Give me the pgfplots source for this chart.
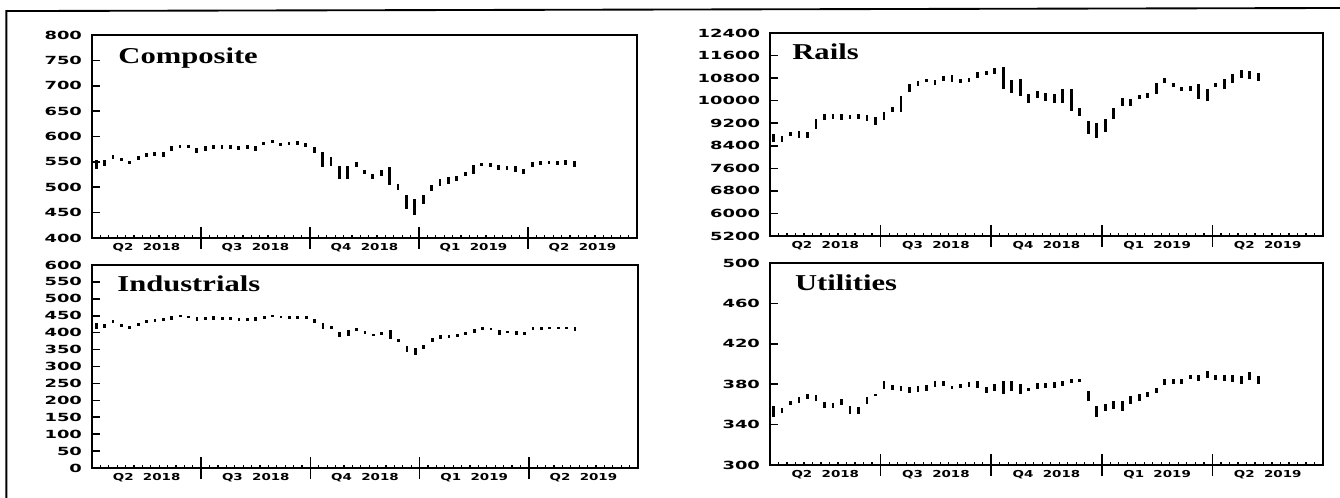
\documentclass[border=0pt]{standalone}
\usepackage{pgfplots}
\pgfplotsset{compat=1.18}
\usepackage{pgfplotstable}
\usepackage{fontspec}
\setmainfont{Liberation Serif}
\newfontfamily\ytfont[FakeStretch=1.6]{DejaVu Sans}
\newfontfamily\xtfont[FakeStretch=1.4]{DejaVu Sans}
\newfontfamily\ttlfont[FakeStretch=1.35]{Liberation Serif}

\pgfplotstableread{
k h l
0 554 536
1 554 541
2 564 556
3 558 551
4 552 546
5 562 554
6 567 560
7 570 562
8 569 560
9 581 572
10 584 577
11 584 577
12 577 567
13 581 572
14 584 576
15 584 576
16 583 575
17 581 573
18 583 575
19 581 572
20 590 583
21 594 588
22 588 581
23 589 583
24 592 584
25 588 580
26 579 567
27 569 539
28 559 541
29 541 516
30 541 516
31 549 539
32 533 526
33 526 516
34 533 523
35 539 505
36 507 495
37 485 457
38 477 446
39 485 467
40 505 493
41 516 503
42 520 507
43 523 513
44 530 523
45 543 526
46 547 541
47 547 539
48 543 533
49 541 533
50 541 530
51 536 526
52 549 539
53 551 543
54 552 545
55 551 543
56 554 543
57 552 539
}\comp

\pgfplotstableread{
k h l
0 8818 8524
1 8735 8547
2 8876 8735
3 8935 8665
4 8900 8665
5 9346 8994
6 9522 9322
7 9522 9346
8 9510 9322
9 9487 9346
10 9522 9346
11 9487 9287
12 9405 9134
13 9581 9322
14 9792 9604
15 10168 9581
16 10579 10309
17 10696 10520
18 10778 10661
19 10731 10544
20 10872 10696
21 10896 10661
22 10778 10638
23 10814 10673
24 11013 10814
25 11049 10896
26 11166 10931
27 11201 10403
28 10731 10285
29 10778 10168
30 10226 9910
31 10344 10109
32 10285 9992
33 10226 9910
34 10403 9910
35 10403 9639
36 9722 9463
37 9287 8818
38 9205 8665
39 9346 8876
40 9757 9346
41 10109 9815
42 10050 9815
43 10191 10074
44 10285 10109
45 10638 10226
46 10814 10638
47 10638 10497
48 10497 10344
49 10520 10344
50 10579 10050
51 10426 9992
52 10638 10497
53 10778 10426
54 10931 10638
55 11084 10814
56 11049 10778
57 10990 10696
}\rails

\pgfplotstableread{
k h l
0 428 410
1 426 414
2 437 430
3 426 418
4 420 412
5 428 420
6 437 428
7 440 432
8 442 434
9 448 438
10 453 446
11 450 442
12 445 435
13 446 436
14 448 438
15 446 436
16 446 436
17 443 433
18 443 433
19 445 435
20 449 440
21 453 446
22 450 442
23 449 440
24 449 440
25 449 440
26 440 430
27 428 410
28 420 410
29 403 387
30 408 389
31 415 406
32 404 396
33 397 390
34 402 394
35 408 381
36 381 371
37 361 344
38 354 334
39 364 351
40 384 371
41 393 381
42 393 384
43 395 387
44 403 393
45 410 398
46 416 408
47 415 408
48 408 393
49 406 398
50 406 393
51 403 393
52 416 408
53 416 408
54 416 410
55 418 410
56 418 410
57 418 406
}\indu

\pgfplotstableread{
k h l
0 358 348
1 356 351
2 363 359
3 367 361
4 370 365
5 369 363
6 362 356
7 361 356
8 365 359
9 358 350
10 357 350
11 367 360
12 370 369
13 383 375
14 379 374
15 378 373
16 377 371
17 378 372
18 379 373
19 383 377
20 383 378
21 378 375
22 380 376
23 382 377
24 383 376
25 377 371
26 380 373
27 383 370
28 383 373
29 380 370
30 376 373
31 381 375
32 381 376
33 382 376
34 383 378
35 385 381
36 385 382
37 373 363
38 358 348
39 360 353
40 363 355
41 363 353
42 368 360
43 370 363
44 372 367
45 376 371
46 385 379
47 385 380
48 385 380
49 389 385
50 389 383
51 393 386
52 389 384
53 389 383
54 389 382
55 388 380
56 392 384
57 388 380
}\util

\tikzset{
  qlab/.style={anchor=north, inner sep=0pt, yshift=-4pt,
    font=\xtfont\bfseries\fontsize{7.2}{8}\selectfont},
  ttl/.style={anchor=base west, inner sep=0pt,
    font=\ttlfont\bfseries\fontsize{17}{20}\selectfont},
}

\newcommand{\qlabels}{%
  \node[qlab] at (rel axis cs:0.1,0) {Q2~~2018};
  \node[qlab] at (rel axis cs:0.3,0) {Q3~~2018};
  \node[qlab] at (rel axis cs:0.5,0) {Q4~~2018};
  \node[qlab] at (rel axis cs:0.7,0) {Q1~~2019};
  \node[qlab] at (rel axis cs:0.9,0) {Q2~~2019};
}

\pgfplotsset{
  /pgf/number format/assume math mode=true,
  panel/.style={
    scale only axis, anchor=south west, clip=false,
    axis line style={line width=1.3pt},
    xmin=0, xmax=65,
    xtick={0,65}, xticklabels={},
    minor xtick={1,...,64},
    minor tick length=2.6pt,
    minor x tick style={line width=0.9pt, black},
    xtick align=inside,
    extra x ticks={13,26,39,52},
    extra x tick labels={},
    extra x tick style={tick align=center, major tick length=16pt,
      tick style={line width=1.3pt, black}},
    ytick align=inside,
    major tick length=6pt,
    ytick style={line width=1.2pt, black},
    tick pos=left,
    scaled y ticks=false,
    yticklabel={\pgfmathprintnumber{\tick}},
    yticklabel style={font=\ytfont\bfseries\fontsize{8.4}{9}\selectfont, xshift=-4pt,
      /pgf/number format/1000 sep={}, /pgf/number format/assume math mode=true},
  },
  hl/.style={draw=none, mark=none, forget plot,
    error bars/.cd, y dir=both, y explicit, error mark=none,
    error bar style={draw=black, line width=2.1pt}},
}

\begin{document}
\begin{tikzpicture}
\path[use as bounding box] (0,0) rectangle (1005pt,373.5pt);
\draw[line width=1.4pt] (4.8pt,0) -- (4.8pt,365.2pt) -- (1005pt,367.5pt);

% Composite
\begin{axis}[panel, at={(69pt,195pt)}, width=408.75pt, height=152.25pt,
  ymin=400, ymax=800, ytick={400,450,...,800}]
\addplot[hl] table[x expr=\thisrow{k}+0.5, y expr=(\thisrow{h}+\thisrow{l})/2,
  y error expr=(\thisrow{h}-\thisrow{l})/2] {\comp};
\node[ttl] at (rel axis cs:0.048,0.862) {Composite};
\qlabels
\end{axis}

% Rails
\begin{axis}[panel, at={(577.5pt,196.5pt)}, width=414.75pt, height=152.25pt,
  ymin=5200, ymax=12400, ytick={5200,6000,...,12400}]
\addplot[hl] table[x expr=\thisrow{k}+0.4, y expr=(\thisrow{h}+\thisrow{l})/2,
  y error expr=(\thisrow{h}-\thisrow{l})/2] {\rails};
\node[ttl] at (rel axis cs:0.04,0.867) {Rails};
\qlabels
\end{axis}

% Industrials
\begin{axis}[panel, at={(69pt,22.5pt)}, width=409.5pt, height=152.25pt,
  ymin=0, ymax=600, ytick={0,50,...,600}]
\addplot[hl] table[x expr=\thisrow{k}+0.5, y expr=(\thisrow{h}+\thisrow{l})/2,
  y error expr=(\thisrow{h}-\thisrow{l})/2] {\indu};
\node[ttl] at (rel axis cs:0.046,0.868) {Industrials};
\qlabels
\end{axis}

% Utilities
\begin{axis}[panel, at={(577.5pt,24.75pt)}, width=414.75pt, height=151.5pt,
  ymin=300, ymax=500, ytick={300,340,...,500}]
\addplot[hl] table[x expr=\thisrow{k}+0.4, y expr=(\thisrow{h}+\thisrow{l})/2,
  y error expr=(\thisrow{h}-\thisrow{l})/2] {\util};
\node[ttl] at (rel axis cs:0.045,0.866) {Utilities};
\qlabels
\end{axis}
\end{tikzpicture}
\end{document}
